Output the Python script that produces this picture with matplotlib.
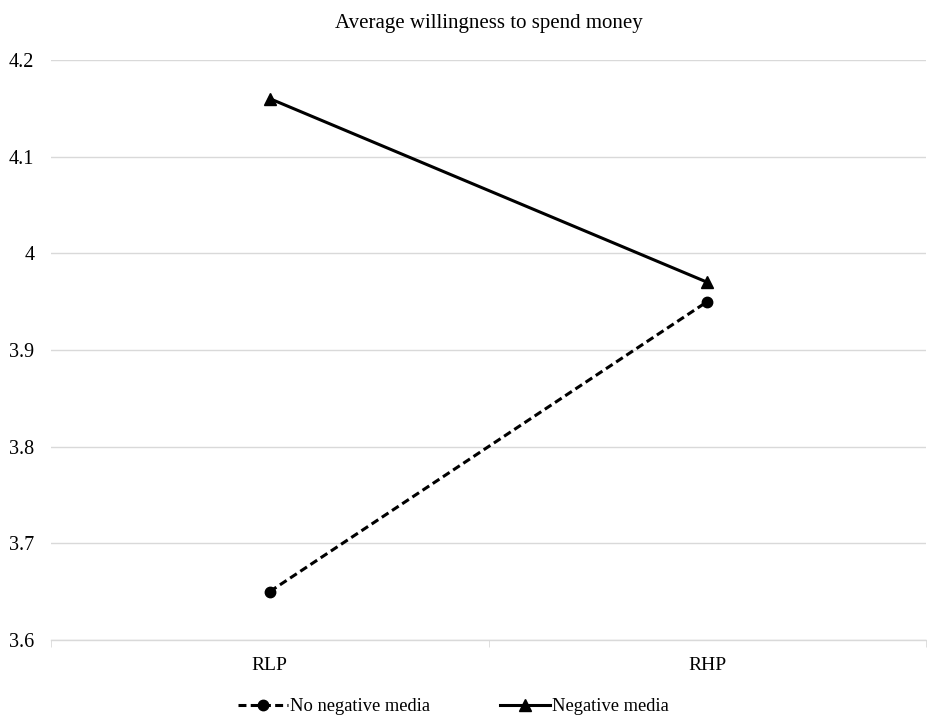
import matplotlib
matplotlib.use('Agg')
import matplotlib.pyplot as plt
from matplotlib.ticker import FuncFormatter

plt.rcParams['font.family'] = ['Liberation Serif', 'DejaVu Serif']

# ---------------- Data ----------------
categories = ['RLP', 'RHP']
no_negative = [3.65, 3.95]
negative = [4.16, 3.97]
y_ticks = [3.6, 3.7, 3.8, 3.9, 4.0, 4.1, 4.2]

fig = plt.figure(figsize=(9.27, 7.19), dpi=100)
ax = fig.add_axes([0.055, 0.11, 0.944, 0.8066])

x = [0.5, 1.5]
ax.plot(x, no_negative, color='black', linestyle=(0, (2.6, 1.4)), linewidth=2.2,
        marker='o', markersize=7.5, label='No negative media', zorder=3)
ax.plot(x, negative, color='black', linestyle='-', linewidth=2.2,
        marker='^', markersize=8, label='Negative media', zorder=3)

ax.set_xlim(0, 2)
ax.set_ylim(3.6, 4.2)
ax.set_yticks(y_ticks)
ax.yaxis.set_major_formatter(FuncFormatter(lambda v, p: f'{v:g}'))
ax.set_xticks(x)
ax.set_xticklabels(categories)
ax.set_xticks([0, 1, 2], minor=True)

ax.grid(axis='y', color='#d9d9d9', linewidth=1)
ax.set_axisbelow(True)
for s in ['top', 'right', 'left']:
    ax.spines[s].set_visible(False)
ax.spines['bottom'].set_color('#d9d9d9')
ax.spines['bottom'].set_linewidth(1)

ax.tick_params(axis='y', length=0, labelsize=14.5, pad=12)
ax.tick_params(axis='x', which='major', length=0, labelsize=14, pad=12)
ax.tick_params(axis='x', which='minor', length=5, color='#d9d9d9', direction='out')

ax.set_title('Average willingness to spend money', fontsize=15, pad=23)

ax.legend(loc='upper center', bbox_to_anchor=(0.46, -0.072), ncol=2, frameon=False,
          fontsize=13.3, handlelength=2.7, handletextpad=0.1, columnspacing=3.8)

plt.savefig('out.png', dpi=100)
plt.close()
